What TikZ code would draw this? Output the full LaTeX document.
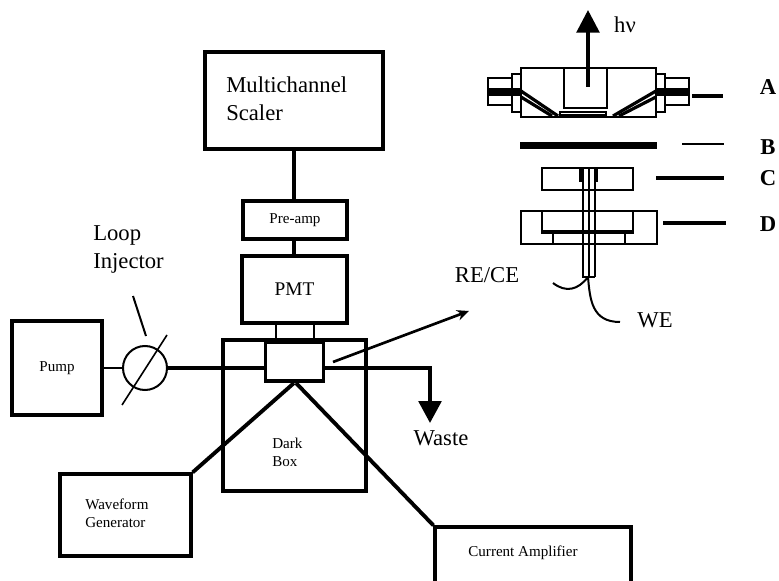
\documentclass[tikz,border=0pt]{standalone}
\usepackage{fontspec}
\setmainfont{Liberation Serif}
\usetikzlibrary{arrows.meta}

\begin{document}
\begin{tikzpicture}[x=.75pt,y=-.75pt,box/.style={draw,line width=3pt,inner sep=0pt,align=center},thinbox/.style={box,line width=1.8pt},txt/.style={inner sep=0pt,align=left},pipe/.style={line width=2.9pt},wire/.style={line width=1.5pt},tick/.style={line width=2.4pt},part/.style={line width=1.7pt},big/.style={font=\fontsize{17}{21}\selectfont},small/.style={font=\fontsize{11.3}{13.5}\selectfont},tag/.style={txt,font=\fontsize{17}{20}\selectfont\bfseries}]
\useasboundingbox (0,0) rectangle (779,581);
\node[box,minimum width=.75*178,minimum height=.75*97] (scaler) at (293.5,100.5) {};
\node[thinbox,line width=2.4pt,minimum width=.75*104,minimum height=.75*38,small] (preamp) at (295,220) {Pre-amp};
\node[thinbox,line width=2.4pt,minimum width=.75*105,minimum height=.75*67,font=\fontsize{14.5}{17}\selectfont] (pmt) at (294.5,289.5) {PMT};
\node[box,line width=3pt,minimum width=.75*143,minimum height=.75*151] (darkbox) at (294.5,415.5) {};
\node[box,minimum width=.75*58,minimum height=.75*39,line width=2.6pt] (cell) at (294.5,361.5) {};
\node[box,minimum width=.75*90,minimum height=.75*94,small] (pump) at (57,368) {Pump};
\node[draw,circle,line width=1.5pt,minimum size=.75*44,inner sep=0pt] (injector) at (145,368) {};
\node[thinbox,line width=2.4pt,minimum width=.75*131,minimum height=.75*82] (waveform) at (125.5,515) {};
\node[thinbox,line width=2.4pt,minimum width=.75*196,minimum height=.75*57] (amplifier) at (533,555.5) {};
\node[txt,big,anchor=west] (scalertxt) at (226,99) {Multichannel\\Scaler};
\node[txt,big,anchor=west] (looptxt) at (93,249) {Loop\\Injector};
\node[txt,small,anchor=west] (darktxt) at (272,452) {Dark\\Box};
\node[txt,small,anchor=west] (wavetxt) at (85,513) {Waveform\\Generator};
\node[txt,small] (amptxt) at (523,553) {Current Amplifier};
\node[txt,big] (wastetxt) at (441,438) {Waste};
\node[txt,big] (recetxt) at (487,275) {RE/CE};
\node[txt,big] (wetxt) at (655,320) {WE};
\node[txt,big] (hvtxt) at (625,25) {hν};
\node[tag] (tagA) at (768,87) {A};
\node[tag] (tagB) at (768,147) {B};
\node[tag] (tagC) at (768,178) {C};
\node[tag] (tagD) at (768,224) {D};
\coordinate (slash0) at (122,405);
\coordinate (slash1) at (167,335);
\coordinate (loop0) at (133,296);
\coordinate (loop1) at (146,336);
\coordinate (wasteout) at (324,368);
\coordinate (wastetip) at (430,423);
\coordinate (rece0) at (333,362);
\coordinate (rece1) at (469,311);
\coordinate (apex0) at (294,383);
\coordinate (apex1) at (296,383);
\coordinate (hv0) at (588,87);
\coordinate (hv1) at (588,10);
\coordinate (stem) at (588,277);
\coordinate (reend) at (553,283);
\coordinate (weend) at (620,322);
\draw[wire,line width=2.4pt] (scaler.south -| 294,0) -- (preamp.north -| 294,0);
\draw[wire,line width=2.4pt] (preamp.south -| 294,0) -- (pmt.north -| 294,0);
\draw[wire] (pmt.south -| 276,0) -- (darkbox.north -| 276,0);
\draw[wire] (pmt.south -| 314,0) -- (darkbox.north -| 314,0);
\draw[wire,line width=2pt] (pump.east) -- (injector.west);
\draw[pipe,line width=3pt] (injector.east) -- (cell.west |- injector.east);
\draw[pipe,-{Triangle[length=16.5pt,width=17pt]}] (wasteout) -| (wastetip);
\draw[wire,line width=1.2pt] (slash0) -- (slash1);
\draw[wire,line width=1.5pt] (loop0) -- (loop1);
\draw[wire,line width=2pt,-{Stealth[length=9pt,width=8pt]}] (rece0) -- (rece1);
\draw[pipe] (waveform.north east) -- (apex0);
\draw[pipe] (amplifier.north west) -- (apex1);
\draw[pipe,line width=2.8pt,-{Triangle[length=17pt,width=17pt]}] (hv0) -- (hv1);
\draw[part] (521,68) rectangle (656,117);
\draw[part] (564,68) rectangle (607,108);
\draw[part,line width=1pt] (560,112) rectangle (606,115);
\draw[part] (512,74) rectangle (521,112);
\draw[part] (656,74) rectangle (665,112);
\draw[part] (488,78) rectangle (512,105);
\draw[part] (665,78) rectangle (689,105);
\draw[line width=6pt] (488,92) -- (521,92);
\draw[line width=6pt] (689,92) -- (656,92);
\draw[line width=2.4pt] (521,91) -- (558,116);
\draw[line width=2.4pt] (521,97) -- (552,116);
\draw[line width=2.4pt] (656,91) -- (613,116);
\draw[line width=2.4pt] (656,97) -- (619,116);
\fill (520,142) rectangle (657,149);
\draw[part] (542,168) rectangle (633,190);
\draw[line width=2.2pt] (550,190) -- (633,190);
\draw[part] (521,211) rectangle (657,244);
\draw[part] (542,211) -- (542,233) -- (633,233) -- (633,211);
\draw[line width=2.8pt] (542,232) -- (633,232);
\draw[part,line width=1pt] (553,233) -- (553,244);
\draw[part,line width=1pt] (625,233) -- (625,244);
\fill (579,168) rectangle (583,182);
\fill (595,168) rectangle (598,182);
\draw[wire,line width=1.2pt] (583,168) -- (583,277) -- (595,277);
\draw[wire,line width=1pt] (589,168) -- (589,277);
\draw[wire,line width=2pt] (595,168) -- (595,277);
\draw[wire] (stem) .. controls (578,290) and (566,293) .. (reend);
\draw[wire] (stem) .. controls (590,300) and (592,322) .. (weend);
\coordinate (tickA0) at (692,96);
\coordinate (tickA1) at (723,96);
\coordinate (tickB0) at (682,144);
\coordinate (tickB1) at (724,144);
\coordinate (tickC0) at (656,178);
\coordinate (tickC1) at (724,178);
\coordinate (tickD0) at (663,223);
\coordinate (tickD1) at (726,223);
\draw[tick] (tickA0) -- (tickA1);
\draw[tick,line width=1.2pt] (tickB0) -- (tickB1);
\draw[tick] (tickC0) -- (tickC1);
\draw[tick] (tickD0) -- (tickD1);
\end{tikzpicture}
\end{document}
